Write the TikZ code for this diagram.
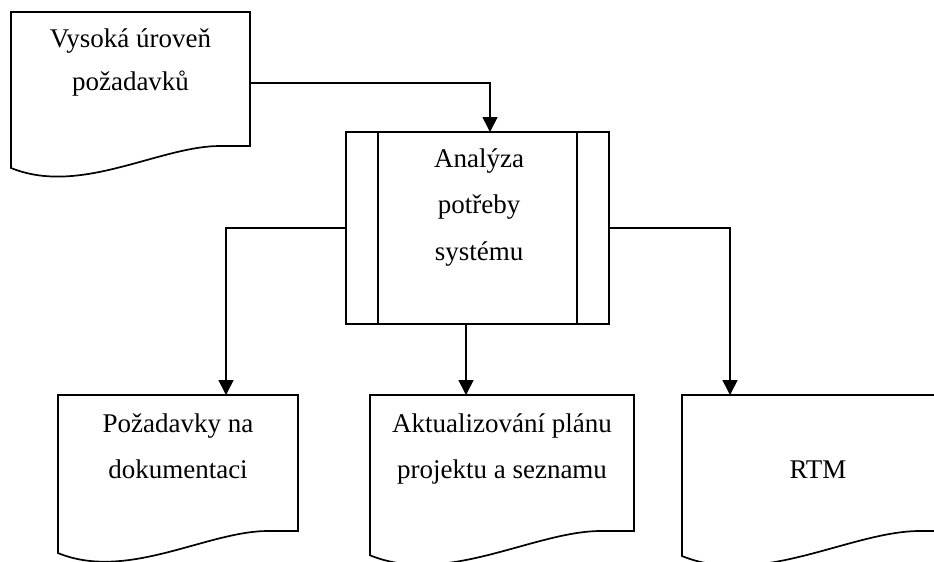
\documentclass[tikz,border=0pt]{standalone}
\usepackage{fontspec}
\setmainfont{Liberation Serif}
\usetikzlibrary{arrows.meta,calc}

\tikzset{
  outline/.style={draw=black, line width=1.7pt, line join=miter},
  flow/.style={draw=black, line width=1.7pt, -{Triangle[width=15pt,length=15pt]}},
  area/.style={inner sep=0pt, outer sep=0pt, anchor=north west},
  doctext/.style={inner sep=0pt, anchor=base},
}

% Document symbol: straight top and sides, wavy bottom edge below the node
\newcommand\docoutline[1]{%
  \draw[outline] let \p1=(#1.north west), \p2=(#1.south east), \n1={\x2-\x1} in
    (\x2,\y2) -- (\x2,\y1) -- (\x1,\y1) -- (\x1,\y2-0.092*\n1)
    .. controls (\x1+0.29*\n1,\y2-0.21*\n1) and (\x1+0.62*\n1,\y2) .. (\x1+0.875*\n1,\y2)
    -- cycle;}

\newcommand\lines[1]{\begin{tabular}[t]{@{}c@{}}#1\end{tabular}}

\begin{document}
\begin{tikzpicture}[x=1pt, y=-1pt]
  \clip (0,0) rectangle (934,562);

  % document areas (without the wavy strip)
  \node[area, minimum width=239pt, minimum height=134pt] (req) at (11,12) {};
  \node[area, minimum width=240pt, minimum height=136pt] (doc) at (58,395) {};
  \node[area, minimum width=264pt, minimum height=136pt] (upd) at (370,395) {};
  \node[area, minimum width=272pt, minimum height=136pt] (rtm) at (682,395) {};
  \docoutline{req}
  \docoutline{doc}
  \docoutline{upd}
  \docoutline{rtm}

  % predefined process
  \node[area, outline, minimum width=263pt, minimum height=192pt] (proc) at (346,132) {};
  \draw[outline] ([xshift=32pt]proc.north west) -- ([xshift=32pt]proc.south west);
  \draw[outline] ([xshift=-32pt]proc.north east) -- ([xshift=-32pt]proc.south east);

  % texts
  \node[doctext, font=\fontsize{27}{43}\selectfont] (reqtext) at (130.5,47)
    {\lines{Vysoká úroveň\\požadavků}};
  \node[doctext, font=\fontsize{27}{46.5}\selectfont] (proctext) at (479,167)
    {\lines{Analýza\\potřeby\\systému}};
  \node[doctext, font=\fontsize{27}{46}\selectfont] (doctext) at (178,432)
    {\lines{Požadavky na\\dokumentaci}};
  \node[doctext, font=\fontsize{27}{46}\selectfont] (updtext) at (502,432)
    {\lines{Aktualizování plánu\\projektu a seznamu}};
  \node[doctext, font=\fontsize{27}{46}\selectfont] (rtmtext) at (818,478) {RTM};

  % connectors
  \draw[flow] ([yshift=-4pt]req.east) -| ([xshift=12.5pt]proc.north);
  \draw[flow] (proc.west) -| ([xshift=48pt]doc.north);
  \draw[flow] ([xshift=-11.5pt]proc.south) -- ([xshift=-11.5pt]proc.south |- upd.north);
  \draw[flow] (proc.east) -| ([xshift=-88pt]rtm.north);
\end{tikzpicture}
\end{document}
